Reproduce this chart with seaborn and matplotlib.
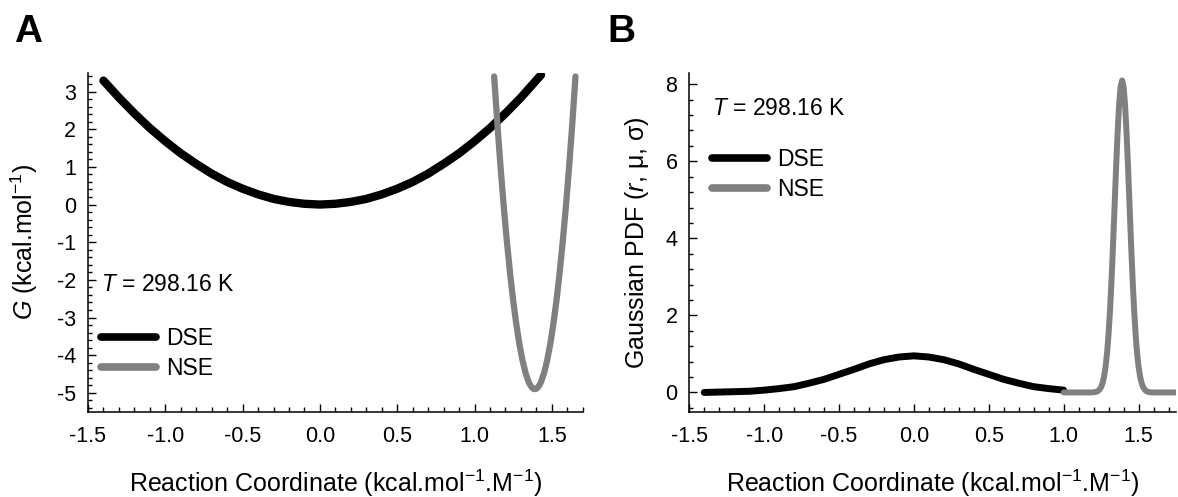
import matplotlib
matplotlib.use("Agg")
import matplotlib.pyplot as plt
import seaborn as sns
from matplotlib.ticker import MultipleLocator

# ── values ────────────────────────────────────────────────────────────────
# panel A: free energy profiles
dse_g_x = [-1.4, -1.3, -1.2, -1.1, -1.0, -0.9, -0.8, -0.7, -0.6, -0.5, -0.4, -0.3, -0.2, -0.1, 0.0,
           0.1, 0.2, 0.3, 0.4, 0.5, 0.6, 0.7, 0.8, 0.9, 1.0, 1.1, 1.2, 1.3, 1.43]
dse_g_y = [3.29, 2.84, 2.42, 2.03, 1.68, 1.36, 1.08, 0.82, 0.60, 0.42, 0.27, 0.15, 0.07, 0.02, 0.0,
           0.02, 0.07, 0.15, 0.27, 0.42, 0.60, 0.82, 1.08, 1.36, 1.68, 2.03, 2.42, 2.84, 3.44]
nse_g_x = [1.127, 1.15, 1.17, 1.19, 1.21, 1.23, 1.25, 1.27, 1.29, 1.31, 1.33, 1.35, 1.36, 1.37, 1.38, 1.39,
           1.40, 1.41, 1.42, 1.43, 1.45, 1.47, 1.49, 1.51, 1.53, 1.55, 1.57, 1.59, 1.61, 1.63, 1.653]
nse_g_y = [3.40, 2.01, 0.91, -0.10, -1.01, -1.83, -2.55, -3.17, -3.70, -4.13, -4.47, -4.71, -4.79, -4.85, -4.89, -4.90,
           -4.89, -4.85, -4.79, -4.71, -4.47, -4.13, -3.70, -3.17, -2.55, -1.83, -1.01, -0.10, 0.91, 2.01, 3.40]

# panel B: gaussian probability densities
dse_p_x = [-1.4, -1.3, -1.2, -1.1, -1.0, -0.9, -0.8, -0.7, -0.6, -0.5, -0.4, -0.3, -0.2, -0.1, 0.0,
           0.1, 0.2, 0.3, 0.4, 0.5, 0.6, 0.7, 0.8, 0.9, 1.0]
dse_p_y = [0.00, 0.01, 0.02, 0.03, 0.06, 0.10, 0.15, 0.24, 0.34, 0.47, 0.60, 0.74, 0.85, 0.92, 0.95,
           0.92, 0.85, 0.74, 0.60, 0.47, 0.34, 0.24, 0.15, 0.10, 0.06]
nse_p_x = [1.00, 1.10, 1.17, 1.19, 1.21, 1.22, 1.23, 1.24, 1.25, 1.26, 1.27, 1.28, 1.29, 1.30, 1.31, 1.32,
           1.33, 1.34, 1.35, 1.36, 1.37, 1.38, 1.39, 1.40, 1.41, 1.42, 1.43, 1.44, 1.45, 1.46, 1.47,
           1.48, 1.49, 1.50, 1.51, 1.52, 1.53, 1.54, 1.55, 1.56, 1.57, 1.59, 1.65, 1.75]
nse_p_y = [0.00, 0.00, 0.00, 0.00, 0.01, 0.02, 0.04, 0.08, 0.14, 0.25, 0.42, 0.67, 1.03, 1.53, 2.17, 2.96,
           3.86, 4.84, 5.83, 6.73, 7.46, 7.93, 8.10, 7.93, 7.46, 6.73, 5.83, 4.84, 3.86, 2.96, 2.17,
           1.53, 1.03, 0.67, 0.42, 0.25, 0.14, 0.08, 0.04, 0.02, 0.01, 0.00, 0.00, 0.00]

x_ticks = [-1.5, -1.0, -0.5, 0.0, 0.5, 1.0, 1.5]
temp_label = "$T$ = 298.16 K"
series_names = ["DSE", "NSE"]
series_colors = ["black", "#808080"]

# ── style ─────────────────────────────────────────────────────────────────
sns.set_style("ticks")
plt.rcParams["font.family"] = ["Liberation Sans", "DejaVu Sans"]
plt.rcParams["mathtext.fontset"] = "custom"
plt.rcParams["mathtext.rm"] = "Liberation Sans"
plt.rcParams["mathtext.it"] = "Liberation Sans:italic"
plt.rcParams["axes.unicode_minus"] = False
for key in ["text.color", "axes.labelcolor", "xtick.color", "ytick.color", "axes.edgecolor"]:
    plt.rcParams[key] = "black"

fig = plt.figure(figsize=(11.78, 4.97), dpi=100)
axA = fig.add_axes([0.0747, 0.1716, 0.4200, 0.6821])
axB = fig.add_axes([0.5851, 0.1716, 0.4132, 0.6821])


def style_axis(ax, y_major, y_minor):
    for side in ["top", "right"]:
        ax.spines[side].set_visible(False)
    for side in ["left", "bottom"]:
        ax.spines[side].set_linewidth(1.1)
    ax.set_xticks(x_ticks)
    ax.set_xticklabels([f"{v:.1f}" for v in x_ticks])
    ax.xaxis.set_minor_locator(MultipleLocator(0.1))
    ax.yaxis.set_major_locator(MultipleLocator(y_major))
    ax.yaxis.set_minor_locator(MultipleLocator(y_minor))
    ax.tick_params(which="both", direction="in", width=1.0, labelsize=15.5)
    ax.tick_params(axis="x", which="major", length=6, pad=10)
    ax.tick_params(axis="x", which="minor", length=3.5)
    ax.tick_params(axis="y", which="major", length=5.5, pad=8.5)
    ax.tick_params(axis="y", which="minor", length=3)
    ax.set_xlabel("Reaction Coordinate (kcal.mol$^{-1}$.M$^{-1}$)", fontsize=18, labelpad=15)


def place_legend(ax, x, y):
    leg = ax.legend(loc="center left", bbox_to_anchor=(x, y), frameon=False, fontsize=16.5,
                    handlelength=2.4, handletextpad=0.45, labelspacing=0.3,
                    borderpad=0, borderaxespad=0)
    for h in leg.get_lines():
        h.set_linewidth(5.5)
        h.set_solid_capstyle("round")
    return leg


# panel A
sns.lineplot(x=dse_g_x, y=dse_g_y, ax=axA, color=series_colors[0], lw=6, estimator=None,
             label=series_names[0], solid_capstyle="round")
sns.lineplot(x=nse_g_x, y=nse_g_y, ax=axA, color=series_colors[1], lw=4.5, estimator=None,
             label=series_names[1], solid_capstyle="round")
axA.set_xlim(-1.5, 1.7)
axA.set_ylim(-5.5, 3.5)
style_axis(axA, 1, 0.2)
axA.set_ylabel("$G$ (kcal.mol$^{-1}$)", fontsize=18, labelpad=12)
axA.text(0.026, 0.375, temp_label, transform=axA.transAxes, fontsize=16.5, va="center")
place_legend(axA, 0.026, 0.172)

# panel B
sns.lineplot(x=dse_p_x, y=dse_p_y, ax=axB, color=series_colors[0], lw=5, estimator=None,
             label=series_names[0], solid_capstyle="round")
sns.lineplot(x=nse_p_x, y=nse_p_y, ax=axB, color=series_colors[1], lw=4.3, estimator=None,
             label=series_names[1], solid_capstyle="round")
axB.set_xlim(-1.5, 1.75)
axB.set_ylim(-0.5, 8.3)
style_axis(axB, 2, 0.4)
axB.set_ylabel("Gaussian PDF ($r$, μ, σ)", fontsize=18, labelpad=10)
axB.text(0.047, 0.893, temp_label, transform=axB.transAxes, fontsize=16.5, va="center")
place_legend(axB, 0.047, 0.70)

# panel letters
fig.text(0.012, 0.916, "A", fontsize=28, fontweight="bold")
fig.text(0.516, 0.916, "B", fontsize=28, fontweight="bold")

fig.savefig("out.png", dpi=100)
